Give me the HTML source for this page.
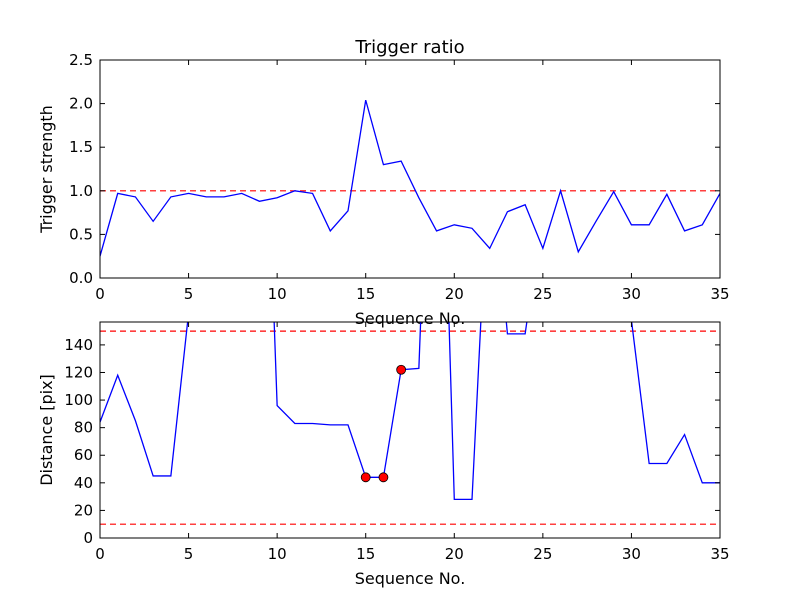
<!DOCTYPE html>
<html><head><meta charset="utf-8"><style>
body{margin:0;background:#fff;}
svg text{font-family:"DejaVu Sans","Liberation Sans",sans-serif;fill:#000;}
</style></head><body>
<svg id="chart" width="800" height="600" viewBox="0 0 800 600"></svg>
<script>
const seqTop = [0,1,2,3,4,5,6,7,8,9,10,11,12,13,14,15,16,17,18,19,20,21,22,23,24,25,26,27,28,29,30,31,32,33,34,35];
const strengthValues = [0.25,0.97,0.93,0.65,0.93,0.97,0.93,0.93,0.97,0.88,0.92,1.0,0.97,0.54,0.77,2.04,1.3,1.34,0.92,0.54,0.61,0.57,0.34,0.76,0.84,0.34,1.0,0.3,0.65,0.99,0.61,0.61,0.96,0.54,0.61,0.97];
const distanceValues = [84,118,85,45,45,163,455,455,455,455,96,83,83,82,82,44,44,122,123,460,28,28,286,148,148,238,238,238,238,238,158,54,54,75,40,40];
const markerSeq = [15,16,17];
const markerDist = [44,44,122];
const strengthThreshold = [1.0];
const distanceThresholds = [150,10];
const xTicks = [0,5,10,15,20,25,30,35];
const topYTicks = [0.0,0.5,1.0,1.5,2.0,2.5];
const botYTicks = [0,20,40,60,80,100,120,140];

const NS="http://www.w3.org/2000/svg";
const svg=document.getElementById('chart');
function mk(tag,attrs,parent){const e=document.createElementNS(NS,tag);for(const k in attrs)e.setAttribute(k,attrs[k]);(parent||svg).appendChild(e);return e;}

function panel(name,top,bottom,ymin,ymax,yTicks,yFmt,ylabel){
  const L=100,R=720;
  const x=v=>L+(v-0)/(35-0)*(R-L);
  const y=v=>bottom-(v-ymin)/(ymax-ymin)*(bottom-top);
  const g=mk('g',{});
  
  
  const cid='clip-'+name;
  const cp=mk('clipPath',{id:cid},g);mk('rect',{x:L,y:top,width:R-L,height:bottom-top},cp);
  const plot=mk('g',{'clip-path':'url(#'+cid+')'},g);
  xTicks.forEach(t=>{
    mk('line',{x1:x(t),x2:x(t),y1:bottom,y2:bottom-5,stroke:'#000'},g);
    mk('line',{x1:x(t),x2:x(t),y1:top,y2:top+5,stroke:'#000'},g);
    const tx=mk('text',{x:x(t),y:bottom+21,'text-anchor':'middle','font-size':'15'},g);
    tx.textContent=t;
    
    
  });
  yTicks.forEach(t=>{
    mk('line',{x1:L,x2:L+5,y1:y(t),y2:y(t),stroke:'#000'},g);
    mk('line',{x1:R,x2:R-5,y1:y(t),y2:y(t),stroke:'#000'},g);
    const tx=mk('text',{x:L-7,y:y(t)+5,'text-anchor':'end','font-size':'15'},g);
    tx.textContent=yFmt(t);
    
    
  });
  const xl=mk('text',{x:(L+R)/2,y:bottom+46,'text-anchor':'middle','font-size':'16'},g);
  xl.textContent='Sequence No.';
  
  
  const yl=mk('text',{x:0,y:0,'text-anchor':'middle','font-size':'16',transform:`translate(${L-48},${(top+bottom)/2}) rotate(-90)`},g);
  yl.textContent=ylabel;
  
  
  return {x,y,g,plot,L,R,top,bottom};
}

// top panel
const p1=panel('strength-panel',60,278,0,2.5,topYTicks,t=>t.toFixed(1),'Trigger strength');
strengthThreshold.forEach(v=>{
  const l=mk('line',{x1:p1.L,x2:p1.R,y1:p1.y(v),y2:p1.y(v),stroke:'#ff0000','stroke-dasharray':'6,4','stroke-width':1.2},p1.plot);
  
  
});
const l1=mk('polyline',{points:seqTop.map((s,i)=>p1.x(s)+','+p1.y(strengthValues[i])).join(' '),fill:'none',stroke:'#0000ff','stroke-width':1.3},p1.plot);


mk('rect',{x:p1.L,y:p1.top,width:p1.R-p1.L,height:p1.bottom-p1.top,fill:'none',stroke:'#000'},p1.g);
const title=mk('text',{x:410,y:53,'text-anchor':'middle','font-size':'18'});
title.textContent='Trigger ratio';



// bottom panel
const p2=panel('distance-panel',322,538,0,156.6,botYTicks,t=>String(t),'Distance [pix]');
distanceThresholds.forEach(v=>{
  const l=mk('line',{x1:p2.L,x2:p2.R,y1:p2.y(v),y2:p2.y(v),stroke:'#ff0000','stroke-dasharray':'6,4','stroke-width':1.2},p2.plot);
  
  
});
const l2=mk('polyline',{points:seqTop.map((s,i)=>p2.x(s)+','+p2.y(distanceValues[i])).join(' '),fill:'none',stroke:'#0000ff','stroke-width':1.3},p2.plot);


markerSeq.forEach((s,i)=>{
  const c=mk('circle',{cx:p2.x(s),cy:p2.y(markerDist[i]),r:4.5,fill:'#ff0000',stroke:'#000','stroke-width':0.8},p2.g);
  
  
});
mk('rect',{x:p2.L,y:p2.top,width:p2.R-p2.L,height:p2.bottom-p2.top,fill:'none',stroke:'#000'},p2.g);
</script>
</body></html>
